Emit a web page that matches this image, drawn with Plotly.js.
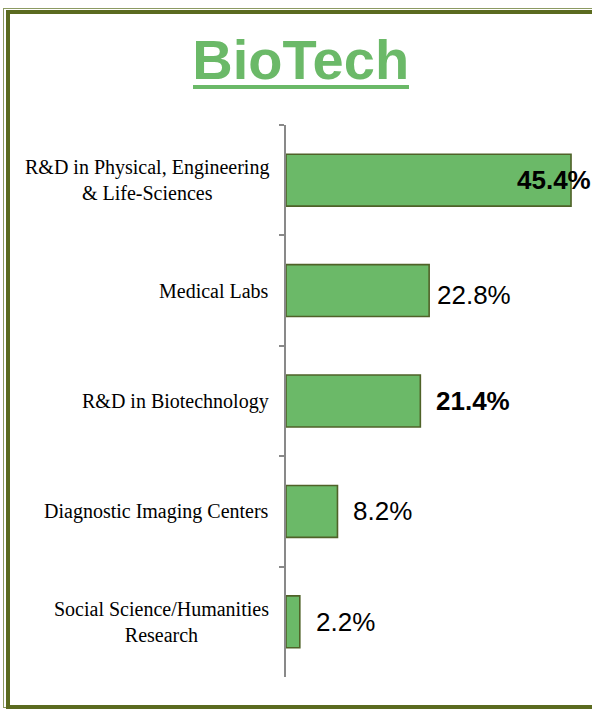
<!DOCTYPE html>
<html>
<head>
<meta charset="utf-8">
<script src="https://cdn.plot.ly/plotly-3.0.1.min.js"></script>
<style>
  html, body { margin: 0; padding: 0; background: #ffffff; }
  #wrap { position: relative; width: 592px; height: 710px; overflow: hidden; background: #ffffff; }
  #chart { position: absolute; left: 0; top: 0; width: 592px; height: 710px; }
  #frameOuter { position: absolute; left: 3px; top: 8px; width: 800px; height: 700px;
    border-left: 1px solid #8c9a62; border-top: 1px solid #8c9a62; border-bottom: 1px solid #8c9a62;
    box-sizing: border-box; pointer-events: none; }
  #frameInner { position: absolute; left: 6px; top: 10px; width: 800px; height: 699px;
    border-left: 4px solid #5b6b1f; border-top: 4px solid #5b6b1f; border-bottom: 4px solid #5b6b1f;
    box-sizing: border-box; pointer-events: none; }
</style>
</head>
<body>
<div id="wrap">
  <div id="chart"></div>
  <div id="frameOuter"></div>
  <div id="frameInner"></div>
</div>
<script>
// ---- data ----
const titleText = "BioTech";
const categories = [
  "R&D in Physical, Engineering<br>& Life-Sciences",
  "Medical Labs",
  "R&D in Biotechnology",
  "Diagnostic Imaging Centers",
  "Social Science/Humanities<br>Research"
];
const shares = [45.4, 22.8, 21.4, 8.2, 2.2];
const valueLabels = ["45.4%", "22.8%", "21.4%", "8.2%", "2.2%"];

// ---- label styling (not data) ----
const labelBold = [true, false, true, false, false];
const labelDx = [-56, 6, 14, 14, 14];
const labelDy = [0, -4, 0, 0, 0];

const green = "#6bb968";
const olive = "#4f6228";

const trace = {
  type: "bar",
  orientation: "h",
  x: shares,
  y: categories,
  width: 0.47,
  marker: { color: green, line: { color: olive, width: 1.6 } },
  hoverinfo: "skip"
};

const annotations = [];
categories.forEach((c, i) => {
  annotations.push({
    xref: "paper", yref: "y", x: 0, y: c,
    text: c, showarrow: false, xanchor: "right", yanchor: "middle",
    align: "center", xshift: -15,
    font: { family: "Liberation Serif, Times New Roman, serif", size: 20, color: "#000000" }
  });
  annotations.push({
    xref: "x", yref: "y", x: shares[i], y: c,
    text: labelBold[i] ? "<b>" + valueLabels[i] + "</b>" : valueLabels[i],
    showarrow: false, xanchor: "left", yanchor: "middle",
    xshift: labelDx[i], yshift: labelDy[i],
    font: { family: "Liberation Sans, Arial, sans-serif", size: 26, color: "#000000" }
  });
});

const layout = {
  width: 592, height: 710,
  margin: { l: 286, r: 0, t: 125, b: 33, pad: 0 },
  paper_bgcolor: "rgba(0,0,0,0)",
  plot_bgcolor: "rgba(0,0,0,0)",
  showlegend: false,
  title: {
    text: "<b>" + titleText + "</b>",
    x: 0.508, xanchor: "center", xref: "container",
    y: 1 - 59 / 710, yanchor: "middle", yref: "container",
    font: { family: "Liberation Sans, Arial, sans-serif", size: 56, color: green }
  },
  xaxis: { visible: false, range: [0, 48.74], fixedrange: true },
  yaxis: {
    type: "category",
    categoryorder: "array", categoryarray: categories,
    range: [4.5, -0.5],
    showline: true, linecolor: "#898989", linewidth: 2,
    ticks: "outside", tickson: "boundaries", ticklen: 5, tickwidth: 2, tickcolor: "#898989",
    showticklabels: false, showgrid: false, zeroline: false, fixedrange: true
  },
  shapes: [{
    type: "rect", xref: "paper", yref: "paper",
    x0: (193 - 286) / 306, x1: (409 - 286) / 306,
    y0: (677 - 89) / 552, y1: (677 - 85) / 552,
    fillcolor: green, line: { width: 0 }
  }],
  annotations: annotations
};

Plotly.newPlot("chart", [trace], layout, { displayModeBar: false, staticPlot: true });
</script>
</body>
</html>
